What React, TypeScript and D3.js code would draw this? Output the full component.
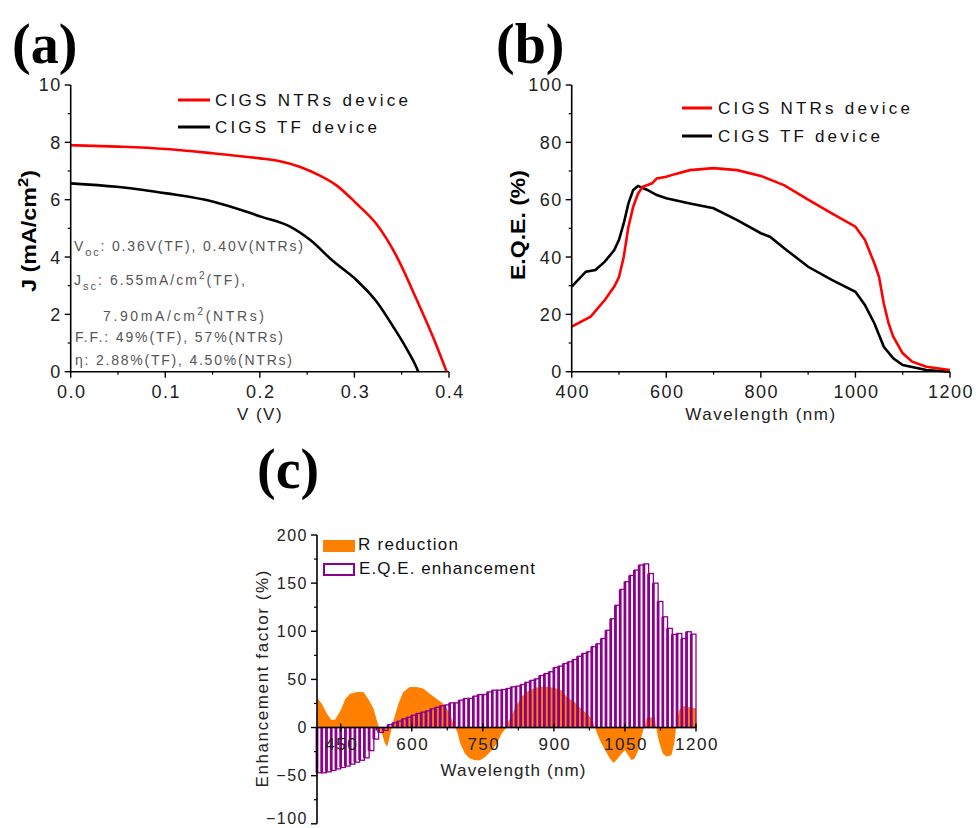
import * as d3 from "d3";

// ---- (a) J-V curves ----
const ntrsV = [0, 0.05, 0.1, 0.15, 0.2, 0.22, 0.242, 0.264, 0.281, 0.302, 0.3235, 0.345, 0.366, 0.383, 0.3975];
const ntrsJ = [7.9, 7.85, 7.77, 7.62, 7.44, 7.35, 7.15, 6.83, 6.5, 5.87, 5.14, 4.0, 2.5, 1.22, 0];
const tfV = [0, 0.0486, 0.077, 0.1015, 0.151, 0.202, 0.232, 0.253, 0.278, 0.302, 0.3235, 0.341, 0.355, 0.366, 0.3675];
const tfJ = [6.57, 6.45, 6.34, 6.22, 5.93, 5.4, 5.06, 4.6, 3.84, 3.2, 2.44, 1.57, 0.81, 0.12, 0];

// ---- (b) EQE spectra ----
const ntrsWl = [400, 440, 470, 490, 500, 510, 520, 530, 540, 550, 570, 580, 600, 620, 650, 700, 750, 800, 850, 900, 950, 1000, 1020, 1040, 1050, 1060, 1070, 1080, 1100, 1120, 1150, 1200];
const ntrsEqe = [15.7, 19.2, 25, 29.7, 33, 40, 50.6, 57.5, 62, 64.5, 65.7, 67.4, 68, 69, 70.3, 71, 70.3, 68.3, 65, 60, 55.2, 50.6, 46, 37.8, 33, 23.8, 16.9, 12.2, 6.4, 3.5, 1.7, 0.6];
const tfWl = [400, 430, 450, 470, 490, 500, 510, 520, 530, 540, 560, 580, 600, 650, 700, 750, 800, 820, 850, 900, 950, 1000, 1020, 1040, 1060, 1080, 1100, 1150, 1200];
const tfEqe = [29.7, 34.9, 35.5, 38.4, 42.4, 46, 51.7, 58.7, 63.4, 64.8, 63.4, 61.6, 60.5, 58.7, 57, 52.9, 48.3, 47, 43, 36.6, 32, 27.9, 23.3, 16.9, 8.7, 4.7, 2.3, 0.6, 0];

// ---- (c) enhancement ----
const rWl = [400, 410, 420, 430, 438, 450, 460, 470, 485, 498, 508, 519, 526, 531, 537, 543, 548, 553, 558, 562, 572, 582, 596, 610, 624, 638, 652, 666, 680, 688, 692, 697, 702, 712, 722, 733, 744, 755, 769, 780, 790, 800, 804, 811, 821, 832, 842, 853, 863, 874, 885, 895, 906, 916, 927, 937, 948, 960, 970, 980, 987, 990, 997, 1008, 1018, 1025, 1032, 1043, 1050, 1057, 1064, 1071, 1078, 1085, 1090, 1093, 1096, 1113, 1116, 1119, 1123, 1130, 1137, 1148, 1154, 1158, 1160, 1165, 1176, 1187, 1200];
const rReduction = [31, 25, 15, 8, 8, 18, 30, 35, 37, 37, 30, 20, 8, 0, -6, -16, -20, -11, 0, 8, 25, 37, 42, 42, 40.5, 35, 30, 25, 15, 4, 0, -6, -16, -27, -32, -34, -34, -30.5, -23.6, -16.6, -6, 0, 6, 13, 23, 32, 37, 39.5, 41.6, 42.3, 42.3, 41.6, 40.5, 38.8, 32, 28.4, 25, 18, 14.5, 8.7, 0, -4.5, -13, -23.6, -32, -36.7, -34, -27, -23.6, -28.8, -34, -32, -23.6, -9.7, 0, 2.4, 10.4, 10.4, 0, -8, -16.6, -27, -30, -28.8, -17, 0, 7.6, 18.7, 22.5, 20.8, 20];
const barStart = d3.range(400, 1200, 10);
const eqeEnh = [-47, -47, -46, -44.5, -43, -41.5, -40, -38, -36, -34, -31.5, -24, -12, -5, -3, 3, 5, 6.6, 9, 10.7, 12.8, 14.6, 16, 17.3, 19.4, 21, 22.5, 23.5, 25.6, 25.6, 28.4, 30.2, 30.2, 32.6, 34.3, 34.3, 37, 38.8, 38.8, 39.5, 40.6, 42.3, 43, 44.7, 47, 49, 50.6, 54, 56, 58, 62.4, 63.8, 66.5, 68.3, 70.7, 74, 77, 78.7, 84, 87, 92.5, 101, 113, 127, 143.5, 151.5, 158, 163.6, 168.8, 170, 160, 150, 131, 115, 103, 96.7, 97.7, 92.5, 99.5, 97];

const aXTicks = [0, 0.1, 0.2, 0.3, 0.4];
const aYTicks = [0, 2, 4, 6, 8, 10];
const bXTicks = [400, 600, 800, 1000, 1200];
const bYTicks = [0, 20, 40, 60, 80, 100];
const cXTicks = [450, 600, 750, 900, 1050, 1200];
const cYTicks = [-100, -50, 0, 50, 100, 150, 200];

const SANS = "'Liberation Sans', Arial, Helvetica, sans-serif";
const SERIF = "'Liberation Serif', 'Times New Roman', serif";
const RED = "#ff0000";
const ORANGE = "#ff8000";
const PURPLE = "#8c008c";

type Sc = d3.ScaleLinear<number, number>;

function AxisLeft({ scale, x, major, minor, fmt, size = 17, maxLabelY = 9999 }: { scale: Sc; x: number; major: number[]; minor: number[]; fmt: (d: number) => string; size?: number; maxLabelY?: number }) {
  const [r0, r1] = scale.range();
  return (
    <g>
      <line x1={x} x2={x} y1={r0} y2={r1} stroke="#000" strokeWidth={1.6} />
      {minor.map((d) => (
        <line key={"m" + d} x1={x - 3} x2={x} y1={scale(d)} y2={scale(d)} stroke="#000" strokeWidth={1.2} />
      ))}
      {major.map((d) => (
        <g key={d}>
          <line x1={x - 6} x2={x} y1={scale(d)} y2={scale(d)} stroke="#000" strokeWidth={1.4} />
          <text x={x - 9} y={Math.min(scale(d), maxLabelY)} dy="0.36em" textAnchor="end" fontSize={size} letterSpacing={1.5} fill="#222">
            {fmt(d)}
          </text>
        </g>
      ))}
    </g>
  );
}

function AxisBottom({ scale, y, major, minor, fmt, size = 17, down = 6, up = 0, labelY = 20 }: { scale: Sc; y: number; major: number[]; minor: number[]; fmt: (d: number) => string; size?: number; down?: number; up?: number; labelY?: number }) {
  const [r0, r1] = scale.range();
  return (
    <g>
      <line x1={r0} x2={r1} y1={y} y2={y} stroke="#000" strokeWidth={1.6} />
      {minor.map((d) => (
        <line key={"m" + d} x1={scale(d)} x2={scale(d)} y1={y} y2={y + 3} stroke="#000" strokeWidth={1.2} />
      ))}
      {major.map((d) => (
        <g key={d}>
          <line x1={scale(d)} x2={scale(d)} y1={y - up} y2={y + down} stroke="#000" strokeWidth={1.4} />
          <text x={scale(d) + 1} y={y + labelY} dy="0.36em" textAnchor="middle" fontSize={size} letterSpacing={1.5} fill="#222">
            {fmt(d)}
          </text>
        </g>
      ))}
    </g>
  );
}

export default function App() {
  const xA = d3.scaleLinear().domain([0, 0.4]).range([70.7, 449]);
  const yA = d3.scaleLinear().domain([0, 10]).range([371.7, 85]);
  const xB = d3.scaleLinear().domain([400, 1200]).range([571.7, 950]);
  const yB = d3.scaleLinear().domain([0, 100]).range([371.7, 85]);
  const xC = d3.scaleLinear().domain([400, 1200]).range([317, 696]);
  const yC = d3.scaleLinear().domain([-100, 200]).range([823.8, 535]);

  const lineA = d3.line<[number, number]>().x((d) => xA(d[0])).y((d) => yA(d[1])).curve(d3.curveMonotoneX);
  const lineB = d3.line<[number, number]>().x((d) => xB(d[0])).y((d) => yB(d[1]));
  const areaC = d3
    .area<[number, number]>()
    .x((d) => xC(d[0]))
    .y0(yC(0))
    .y1((d) => yC(d[1]));

  const zip = (a: number[], b: number[]) => a.map((v, i) => [v, b[i]] as [number, number]);
  const f1 = d3.format(".1f");
  const f0 = d3.format("d");

  return (
    <svg width={976} height={828} style={{ position: "absolute", left: 0, top: 0, background: "#fff" }} fontFamily={SANS}>
      <rect width={976} height={828} fill="#fff" />

      {/* panel labels */}
      <text x={12} y={63} fontFamily={SERIF} fontWeight="bold" fontSize={56}>(a)</text>
      <text x={496} y={63} fontFamily={SERIF} fontWeight="bold" fontSize={56}>(b)</text>
      <text x={257} y={488} fontFamily={SERIF} fontWeight="bold" fontSize={56}>(c)</text>

      {/* ---------- (a) ---------- */}
      <path d={lineA(zip(tfV, tfJ)) ?? ""} fill="none" stroke="#000" strokeWidth={2.6} />
      <path d={lineA(zip(ntrsV, ntrsJ)) ?? ""} fill="none" stroke={RED} strokeWidth={2.6} />
      <AxisLeft scale={yA} x={xA(0)} major={aYTicks} minor={[1, 3, 5, 7, 9]} fmt={f0} size={18} />
      <AxisBottom scale={xA} y={yA(0)} major={aXTicks} minor={[0.05, 0.15, 0.25, 0.35]} fmt={f1} size={18} />
      <text transform={`translate(36,231) rotate(-90)`} textAnchor="middle" fontWeight="bold" fontSize={21} textLength={122} lengthAdjust="spacingAndGlyphs">
        J (mA/cm<tspan dy={-8} fontSize={15}>2</tspan><tspan dy={8}>)</tspan>
      </text>
      <text x={260} y={420} textAnchor="middle" fontSize={17} letterSpacing={1.5} fill="#222">V (V)</text>
      <line x1={178} x2={210} y1={100} y2={100} stroke={RED} strokeWidth={3} />
      <text x={215} y={100} dy="0.36em" fontSize={17} textLength={193} lengthAdjust="spacing" fill="#111">CIGS NTRs device</text>
      <line x1={178} x2={210} y1={127} y2={127} stroke="#000" strokeWidth={3} />
      <text x={215} y={127} dy="0.36em" fontSize={17} textLength={162} lengthAdjust="spacing" fill="#111">CIGS TF device</text>
      <g fontSize={14} fill="#555">
        <text x={74} y={251} textLength={229} lengthAdjust="spacing">
          V<tspan dy={5} fontSize={11}>oc</tspan><tspan dy={-5}>: 0.36V(TF), 0.40V(NTRs)</tspan>
        </text>
        <text x={74} y={285} textLength={171} lengthAdjust="spacing">
          J<tspan dy={5} fontSize={11}>sc</tspan><tspan dy={-5}>: 6.55mA/cm</tspan><tspan dy={-6} fontSize={10}>2</tspan><tspan dy={6}>(TF),</tspan>
        </text>
        <text x={103} y={321} textLength={161} lengthAdjust="spacing">
          7.90mA/cm<tspan dy={-6} fontSize={10}>2</tspan><tspan dy={6}>(NTRs)</tspan>
        </text>
        <text x={75} y={342} textLength={208} lengthAdjust="spacing">F.F.: 49%(TF), 57%(NTRs)</text>
        <text x={75} y={365} textLength={217} lengthAdjust="spacing">η: 2.88%(TF), 4.50%(NTRs)</text>
      </g>

      {/* ---------- (b) ---------- */}
      <path d={lineB(zip(tfWl, tfEqe)) ?? ""} fill="none" stroke="#000" strokeWidth={2.6} />
      <path d={lineB(zip(ntrsWl, ntrsEqe)) ?? ""} fill="none" stroke={RED} strokeWidth={2.6} />
      <AxisLeft scale={yB} x={xB(400)} major={bYTicks} minor={[10, 30, 50, 70, 90]} fmt={f0} size={18} />
      <AxisBottom scale={xB} y={yB(0)} major={bXTicks} minor={[500, 700, 900, 1100]} fmt={f0} size={18} />
      <text transform={`translate(525,225) rotate(-90)`} textAnchor="middle" fontWeight="bold" fontSize={21} textLength={110} lengthAdjust="spacingAndGlyphs">
        E.Q.E. (%)
      </text>
      <text x={761} y={420} textAnchor="middle" fontSize={17} letterSpacing={1.5} fill="#222">Wavelength (nm)</text>
      <line x1={682} x2={712} y1={108} y2={108} stroke={RED} strokeWidth={3} />
      <text x={718} y={108} dy="0.36em" fontSize={17} textLength={192} lengthAdjust="spacing" fill="#111">CIGS NTRs device</text>
      <line x1={682} x2={712} y1={136} y2={136} stroke="#000" strokeWidth={3} />
      <text x={718} y={136} dy="0.36em" fontSize={17} textLength={162} lengthAdjust="spacing" fill="#111">CIGS TF device</text>

      {/* ---------- (c) ---------- */}
      <path d={areaC(zip(rWl, rReduction)) ?? ""} fill={ORANGE} />
      <g>
        {barStart.map((w, i) => {
          const x0 = xC(w);
          const x1 = xC(w + 10);
          const v = eqeEnh[i];
          const yt = Math.min(yC(v), yC(0));
          const h = Math.abs(yC(v) - yC(0));
          return (
            <g key={w}>
              <rect x={x0 - 1.4} y={yt} width={2.8} height={h} fill={PURPLE} />
              <rect x={x0} y={yt} width={x1 - x0} height={h} fill="none" stroke={PURPLE} strokeWidth={1.3} />
            </g>
          );
        })}
      </g>
      <AxisLeft scale={yC} x={xC(400)} major={cYTicks} minor={[-75, -25, 25, 75, 125, 175]} fmt={f0} size={16} maxLabelY={818} />
      <AxisBottom scale={xC} y={yC(0)} major={cXTicks} minor={[525, 675, 825, 975, 1125]} fmt={f0} size={17} up={4} down={4} labelY={16} />
      <text transform={`translate(268,679) rotate(-90)`} textAnchor="middle" fontSize={17} textLength={217} lengthAdjust="spacing" fill="#222">
        Enhancement factor (%)
      </text>
      <text x={513} y={776} textAnchor="middle" fontSize={17} textLength={145} lengthAdjust="spacing" fill="#222">Wavelength (nm)</text>
      <rect x={323} y={540} width={32} height={12} fill={ORANGE} />
      <text x={358} y={550} fontSize={17} textLength={100} lengthAdjust="spacing" fill="#111">R reduction</text>
      <rect x={324} y={564} width={30} height={11} fill="#fff" stroke={PURPLE} strokeWidth={2} />
      <text x={359} y={574} fontSize={17} textLength={176} lengthAdjust="spacing" fill="#111">E.Q.E. enhancement</text>
    </svg>
  );
}
